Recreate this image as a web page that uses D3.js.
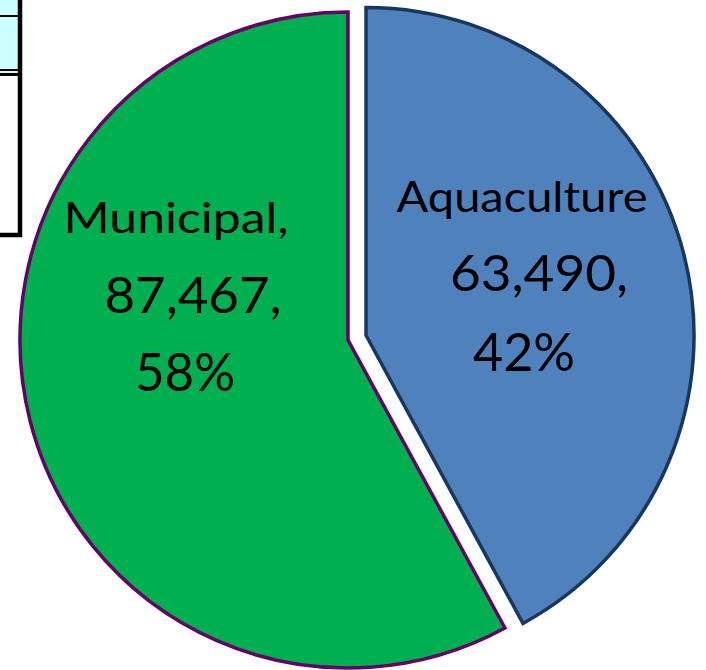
<!DOCTYPE html>
<html>
<head>
<meta charset="utf-8">
<script src="https://cdn.jsdelivr.net/npm/d3@7"></script>
<style>
  body { margin: 0; background: #fff; }
  svg { display: block; }
</style>
</head>
<body>
<div id="chart"></div>
<script>
// Data
var categories = ["Aquaculture", "Municipal"];
var values = [63490, 87467];
var nameLabels = ["Aquaculture", "Municipal,"];

var w = 706;
var h = 670;
var cx = 348, cy = 340;
var radius = 328;
var explode = 18.6;

var fills = ["#4F81BD", "#00B050"];
var strokes = ["#17375E", "#660066"];

var total = d3.sum(values);
var fmtNum = d3.format(",");
var fmtPct = d3.format(".0%");

var svg = d3.select("#chart")
    .append("svg")
    .attr("width", w)
    .attr("height", h);

// Cut-off table box at top-left
var box = svg.append("g");
box.append("rect")
    .attr("x", -10).attr("y", -10)
    .attr("width", 28).attr("height", 79)
    .attr("fill", "#CCFFFF");
box.append("rect")
    .attr("x", -10).attr("y", 71)
    .attr("width", 28).attr("height", 2)
    .attr("fill", "#CCFFFF");
box.append("line")
    .attr("x1", -10).attr("x2", 20).attr("y1", 16).attr("y2", 16)
    .attr("stroke", "#000").attr("stroke-width", 2);
box.append("line")
    .attr("x1", -10).attr("x2", 20).attr("y1", 70).attr("y2", 70)
    .attr("stroke", "#000").attr("stroke-width", 2);
box.append("line")
    .attr("x1", -10).attr("x2", 20).attr("y1", 74.5).attr("y2", 74.5)
    .attr("stroke", "#000").attr("stroke-width", 3);
box.append("path")
    .attr("d", "M-10,235H20V-10")
    .attr("fill", "none")
    .attr("stroke", "#000")
    .attr("stroke-width", 4.5);

// Pie
var pie = d3.pie().sort(null).value(function(d) { return d; });
var arc = d3.arc().innerRadius(0).outerRadius(radius);
var arcs = pie(values);

var slices = svg.append("g")
    .attr("transform", "translate(" + cx + "," + cy + ")");

slices.selectAll("path")
    .data(arcs)
    .enter()
    .append("path")
    .attr("d", arc)
    .attr("transform", function(d, i) {
        if (i !== 0) return null;
        var a = (d.startAngle + d.endAngle) / 2;
        return "translate(" + (Math.sin(a) * explode) + "," + (-Math.cos(a) * explode) + ")";
    })
    .attr("fill", function(d, i) { return fills[i]; })
    .attr("stroke", function(d, i) { return strokes[i]; })
    .attr("stroke-width", 3.5)
    .attr("stroke-linejoin", "miter");

// Labels: three lines per slice (name, value, percent)
var labelLayout = [
    // Aquaculture
    [ {x: 522, y: 212, size: 42, len: 251},
      {x: 539, y: 291, size: 51, len: 178},
      {x: 524, y: 371, size: 53, len: 102} ],
    // Municipal
    [ {x: 176, y: 233, size: 43, len: 225},
      {x: 193, y: 313, size: 51, len: 177},
      {x: 185, y: 391, size: 53, len: 100} ]
];

values.forEach(function(v, i) {
    var lines = [nameLabels[i], fmtNum(v) + ",", fmtPct(v / total)];
    svg.append("g")
        .selectAll("text")
        .data(lines)
        .enter()
        .append("text")
        .text(function(d) { return d; })
        .attr("x", function(d, j) { return labelLayout[i][j].x; })
        .attr("y", function(d, j) { return labelLayout[i][j].y; })
        .attr("text-anchor", "middle")
        .attr("font-family", "Lato, 'Open Sans', sans-serif")
        .attr("font-size", function(d, j) { return labelLayout[i][j].size; })
        .attr("textLength", function(d, j) { return labelLayout[i][j].len; })
        .attr("lengthAdjust", "spacingAndGlyphs")
        .attr("fill", "#000");
});
</script>
</body>
</html>
